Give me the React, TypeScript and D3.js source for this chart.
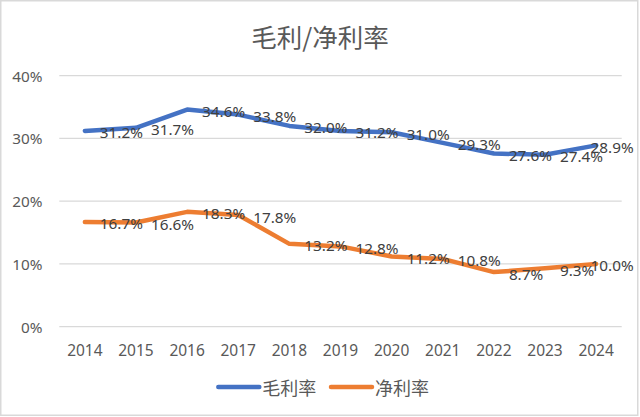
import React, { useEffect } from "react";
import * as d3 from "d3";

const years = ["2014", "2015", "2016", "2017", "2018", "2019", "2020", "2021", "2022", "2023", "2024"];
const grossMargin = [31.2, 31.7, 34.6, 33.8, 32.0, 31.2, 31.0, 29.3, 27.6, 27.4, 28.9];
const netMargin = [16.7, 16.6, 18.3, 17.8, 13.2, 12.8, 11.2, 10.8, 8.7, 9.3, 10.0];
const yTicks = [0, 10, 20, 30, 40];
const seriesNames = ["毛利率", "净利率"];

const W = 640;
const H = 417;
const COLORS = ["#4472C4", "#ED7D31"];
const NUM_FONT = "'Noto Sans', 'Noto Sans CJK SC', sans-serif";
const CJK_FONT = "'Noto Sans CJK SC', 'Noto Sans', sans-serif";

// rough text width for clamping labels inside the chart frame
const measure = (s: string, size: number) => {
  let w = 0;
  for (const c of s) w += c === "." ? 0.27 : c === "%" ? 0.85 : 0.572;
  return w * size;
};

const App: React.FC = () => {
  useEffect(() => {
    document.body.style.margin = "0";
  }, []);

  const x = d3.scaleBand<string>().domain(years).range([59.3, 621.7]);
  const y = d3.scaleLinear().domain([0, 40]).range([326.7, 75.7]);
  const cx = (d: string) => (x(d) ?? 0) + x.bandwidth() / 2;

  const line = d3
    .line<number>()
    .x((_, i) => cx(years[i]))
    .y((v) => y(v));

  const series = [grossMargin, netMargin];

  return (
    <svg width={W} height={H} style={{ display: "block", background: "#fff" }}>
      <rect x={0.75} y={0.75} width={637} height={414.5} fill="#fff" stroke="#D9D9D9" strokeWidth={1.5} />

      <text x={320} y={35} textAnchor="middle" dominantBaseline="central" fontSize={25.5} fill="#595959" fontFamily={CJK_FONT}>
        毛利/净利率
      </text>

      {yTicks.map((t) => (
        <g key={t}>
          <line x1={59.3} x2={621.7} y1={y(t)} y2={y(t)} stroke="#D9D9D9" strokeWidth={1.2} />
          <text x={42.5} y={y(t)} textAnchor="end" dominantBaseline="central" fontSize={15.3} fill="#595959" fontFamily={NUM_FONT}>
            {t}%
          </text>
        </g>
      ))}

      {years.map((yr) => (
        <text key={yr} x={cx(yr)} y={350} textAnchor="middle" dominantBaseline="central" fontSize={15.5} fill="#595959" fontFamily={NUM_FONT}>
          {yr}
        </text>
      ))}

      {series.map((vals, si) => (
        <path key={si} d={line(vals) ?? ""} fill="none" stroke={COLORS[si]} strokeWidth={4.5} strokeLinejoin="round" strokeLinecap="round" />
      ))}

      {series.map((vals, si) =>
        vals.map((v, i) => {
          const label = `${v.toFixed(1)}%`;
          const w = measure(label, 15.3);
          const lx = Math.min(cx(years[i]) + 15, 634 - w);
          return (
            <text key={`${si}-${i}`} x={lx} y={y(v) + 1.5} dominantBaseline="central" fontSize={15.3} fill="#404040" fontFamily={NUM_FONT}>
              {label}
            </text>
          );
        })
      )}

      {seriesNames.map((name, si) => {
        const x0 = si === 0 ? 218.3 : 331;
        return (
          <g key={name}>
            <line x1={x0} x2={x0 + 41} y1={387} y2={387} stroke={COLORS[si]} strokeWidth={4.5} strokeLinecap="round" />
            <text x={x0 + 44} y={387} dominantBaseline="central" fontSize={18} fill="#595959" fontFamily={CJK_FONT}>
              {name}
            </text>
          </g>
        );
      })}
    </svg>
  );
};

export default App;
